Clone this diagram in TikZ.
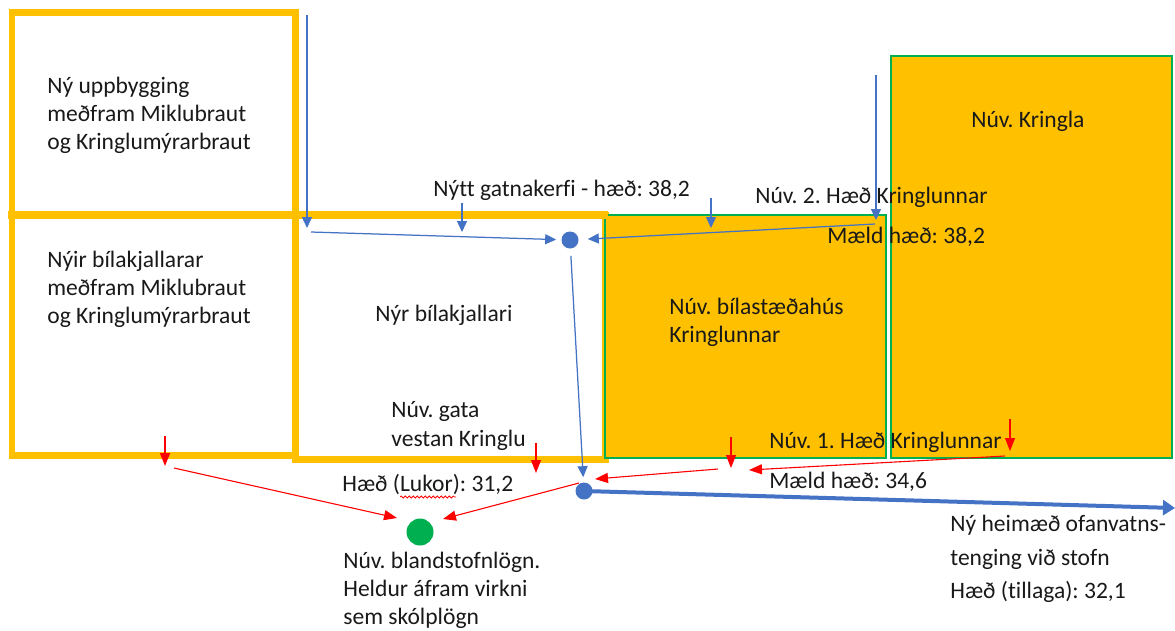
\documentclass[tikz,border=0pt]{standalone}
\usepackage{fontspec}
\setmainfont[Ligatures=NoCommon]{Carlito}
\usepackage{xcolor}
\usepackage{tikz}
\usetikzlibrary{arrows.meta, decorations.pathmorphing}
\frenchspacing

\definecolor{gold}{HTML}{FFC000}
\definecolor{kgreen}{HTML}{00B050}
\definecolor{bblue}{HTML}{4472C4}
\definecolor{rred}{HTML}{FF0000}

\begin{document}
\begin{tikzpicture}[x=0.02cm, y=-0.02cm,
	lbl/.style={font=\fontsize{13.4}{16}\selectfont, inner sep=0pt, anchor=west, align=left, text=black!90},
	ybox/.style={draw=gold, line width=0.14cm},
	gbox/.style={draw=kgreen, fill=gold, line width=0.04cm},
	bdot/.style={circle, fill=bblue, minimum size=0.34cm, inner sep=0pt},
	bwire/.style={draw=bblue, line width=0.025cm, -{Triangle[length=0.22cm, width=0.2cm]}},
	rwire/.style={draw=rred, line width=0.022cm, -{Triangle[length=0.26cm, width=0.2cm]}}]
	\useasboundingbox (0, 0) rectangle (1175, 630);
	% Boxes:
	\draw[ybox] (295, 215) rectangle (605, 459);
	\draw[ybox] (12, 12) rectangle (295, 215);
	\draw[ybox] (12, 215) rectangle (295, 455);
	\draw[gbox] (605, 215) rectangle (886, 458);
	\draw[gbox] (891, 56) rectangle (1172, 458);
	\draw[draw=gold, line width=0.16cm] (8, 215) -- (608, 215);
	% Texts:
	\node[lbl](T1) at (47, 115){Ný uppbygging\\meðfram Miklubraut\\og Kringlumýrarbraut};
	\node[lbl](T2) at (433, 190){Nýtt gatnakerfi - hæð: 38,2};
	\node[lbl](T3) at (755, 197){Núv. 2. Hæð Kringlunnar};
	\node[lbl](T4) at (827, 237){Mæld hæð: 38,2};
	\node[lbl](T5) at (971, 121){Núv. Kringla};
	\node[lbl](T6) at (47, 289){Nýir bílakjallarar\\meðfram Miklubraut\\og Kringlumýrarbraut};
	\node[lbl](T7) at (375, 315){Nýr bílakjallari};
	\node[lbl](T8) at (669, 322){Núv. bílastæðahús\\Kringlunnar};
	\node[lbl](T9) at (391, 426){Núv. gata\\vestan Kringlu};
	\node[lbl](T10) at (342, 485){Hæð (Lukor): 31,2};
	\node[lbl](T11) at (769, 442){Núv. 1. Hæð Kringlunnar};
	\node[lbl](T12) at (769, 482){Mæld hæð: 34,6};
	\node[lbl, font=\fontsize{13.4}{19}\selectfont](T13) at (950, 559){Ný heimæð ofanvatns-\\tenging við stofn\\Hæð (tillaga): 32,1};
	\node[lbl](T14) at (343, 590){Núv. blandstofnlögn.\\Heldur áfram virkni\\sem skólplögn};
	\draw[rred, line width=0.015cm, decorate, decoration={snake, amplitude=0.02cm, segment length=0.08cm}] (400, 497) -- (456, 497);
	% Manholes:
	\node[bdot](D1) at (570, 240){};
	\node[bdot](D2) at (584, 491){};
	\node[circle, fill=kgreen, minimum size=0.54cm, inner sep=0pt](G1) at (420, 532){};
	% Blue wires:
	\coordinate (B1s) at (307, 15);  \coordinate (B1e) at (307, 228);
	\coordinate (B2s) at (311, 232);
	\coordinate (B3s) at (462, 203); \coordinate (B3e) at (462, 232);
	\coordinate (B4s) at (875, 224);
	\coordinate (B5s) at (711, 198); \coordinate (B5e) at (711, 228);
	\coordinate (B6s) at (876, 75);  \coordinate (B6e) at (876, 220);
	\coordinate (B7e) at (1175, 508);
	\draw[bwire] (B1s) -- (B1e);
	\draw[bwire, shorten >=0.1cm] (B2s) -- (D1);
	\draw[bwire] (B3s) -- (B3e);
	\draw[bwire, shorten >=0.18cm] (B4s) -- (D1);
	\draw[bwire] (B5s) -- (B5e);
	\draw[bwire] (B6s) -- (B6e);
	\draw[bwire, shorten <=0.14cm, shorten >=0.1cm] (D1) -- (D2);
	\draw[draw=bblue, line width=0.08cm, -{Triangle[length=0.24cm, width=0.3cm]}] (D2.center) -- (B7e);
	% Red wires:
	\coordinate (R1s) at (165, 436);  \coordinate (R1e) at (165, 466);
	\coordinate (R2s) at (174, 468);  \coordinate (R2e) at (397, 518);
	\coordinate (R3s) at (579, 483);  \coordinate (R3e) at (443, 519);
	\coordinate (R4s) at (536, 443);  \coordinate (R4e) at (536, 473);
	\coordinate (R5s) at (718, 469);  \coordinate (R5e) at (595, 479);
	\coordinate (R6s) at (731, 437);  \coordinate (R6e) at (731, 468);
	\coordinate (R7s) at (1005, 456); \coordinate (R7e) at (749, 470);
	\coordinate (R8s) at (1010, 419); \coordinate (R8e) at (1010, 451);
	\foreach \w in {1,...,8}
		\draw[rwire] (R\w s) -- (R\w e);
\end{tikzpicture}
\end{document}
